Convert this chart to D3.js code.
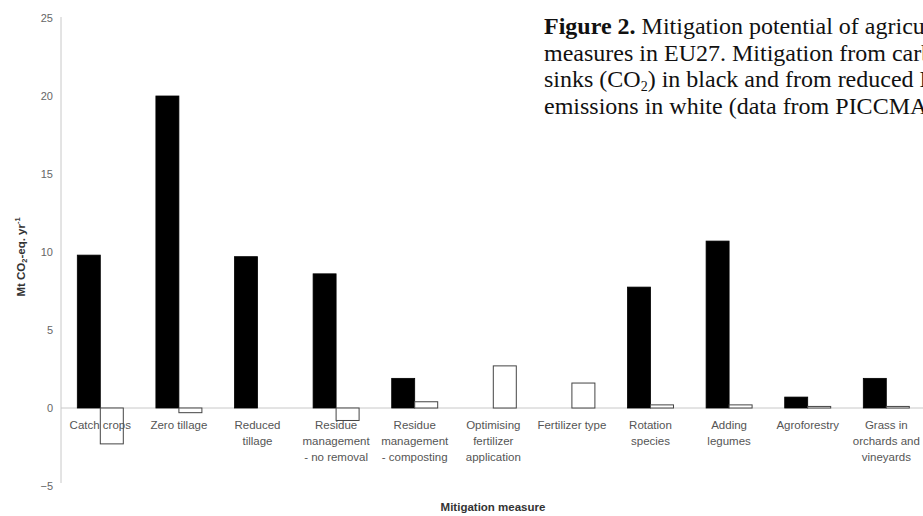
<!DOCTYPE html>
<html>
<head>
<meta charset="utf-8">
<script src="https://cdn.jsdelivr.net/npm/d3@7"></script>
<style>
  html, body { margin: 0; padding: 0; background: #fff; }
  svg { display: block; }
</style>
</head>
<body>
<svg id="chart" width="923" height="516"></svg>
<script>
const categories = [
  ["Catch crops"],
  ["Zero tillage"],
  ["Reduced", "tillage"],
  ["Residue", "management", "- no removal"],
  ["Residue", "management", "- composting"],
  ["Optimising", "fertilizer", "application"],
  ["Fertilizer type"],
  ["Rotation", "species"],
  ["Adding", "legumes"],
  ["Agroforestry"],
  ["Grass in", "orchards and", "vineyards"]
];
const co2Values   = [9.8, 20.0, 9.7, 8.6, 1.9, 0, 0, 7.75, 10.7, 0.7, 1.9];
const otherValues = [-2.3, -0.3, 0, -0.8, 0.4, 2.7, 1.6, 0.2, 0.2, 0.1, 0.1];
const seriesKeys = ["co2", "other"];
const yTicks = [-5, 0, 5, 10, 15, 20, 25];

const svg = d3.select("#chart");
const axisX = 61;
const keys = categories.map((c, i) => i);
const sans = "Liberation Sans, Arial, sans-serif";

const x = d3.scaleBand().domain(keys).range([axisX, axisX + 11 * 78.6]).padding(0);
const xs = d3.scaleBand().domain(seriesKeys).range([0, x.bandwidth()])
  .paddingInner(0).paddingOuter(0.709);
const y = d3.scaleLinear().domain([-5, 25]).range([486, 18]);

// zero line
svg.append("line")
  .attr("x1", axisX).attr("x2", 923)
  .attr("y1", y(0)).attr("y2", y(0))
  .attr("stroke", "#c8c8c8").attr("stroke-width", 1);

// y axis
const yAxis = d3.axisLeft(y).tickValues(yTicks).tickSize(0).tickPadding(8)
  .tickFormat(d3.format("d"));
const gy = svg.append("g").attr("transform", `translate(${axisX},0)`).call(yAxis);
gy.select(".domain").attr("stroke", "#c8c8c8").attr("d", `M0,${y(25)-1}V${y(-5)-3}`);
gy.selectAll("text").attr("font-family", sans)
  .attr("font-size", 11).attr("fill", "#666");

// bars
const data = keys.map(i => ({ i, co2: co2Values[i], other: otherValues[i] }));
const groups = svg.append("g").selectAll("g").data(data).join("g")
  .attr("transform", d => `translate(${x(d.i)},0)`);

groups.filter(d => d.co2 !== 0).append("rect")
  .attr("x", xs("co2")).attr("width", xs.bandwidth())
  .attr("y", d => y(Math.max(0, d.co2)))
  .attr("height", d => Math.abs(y(d.co2) - y(0)))
  .attr("fill", "#000").attr("stroke", "#000").attr("stroke-width", 0.8);

groups.filter(d => d.other !== 0).append("rect")
  .attr("x", xs("other")).attr("width", xs.bandwidth())
  .attr("y", d => y(Math.max(0, d.other)))
  .attr("height", d => Math.max(1, Math.abs(y(d.other) - y(0))))
  .attr("fill", "#fff").attr("stroke", "#444").attr("stroke-width", 1);

// x labels
const lab = svg.append("g").selectAll("text").data(data).join("text")
  .attr("x", d => x(d.i) + x.bandwidth() / 2)
  .attr("y", 429)
  .attr("text-anchor", "middle")
  .attr("font-family", sans)
  .attr("font-size", 11.5).attr("fill", "#555");
lab.each(function(d) {
  const t = d3.select(this);
  categories[d.i].forEach((line, k) => {
    t.append("tspan").attr("x", x(d.i) + x.bandwidth() / 2)
      .attr("dy", k === 0 ? 0 : 16).text(line);
  });
});

// axis titles
svg.append("text")
  .attr("x", 493).attr("y", 511)
  .attr("text-anchor", "middle")
  .attr("font-family", sans)
  .attr("font-size", 11.5).attr("font-weight", "bold").attr("fill", "#333")
  .text("Mitigation measure");

const yt = svg.append("text")
  .attr("transform", "translate(25,257) rotate(-90)")
  .attr("text-anchor", "middle")
  .attr("font-family", sans)
  .attr("font-size", 11.5).attr("font-weight", "bold").attr("fill", "#333");
yt.append("tspan").text("Mt CO");
yt.append("tspan").attr("font-size", 7.5).attr("dy", 2).text("2");
yt.append("tspan").attr("dy", -2).text("-eq. yr");
yt.append("tspan").attr("font-size", 7.5).attr("dy", -5).text("-1");

// caption (cut off at the right edge, as in the reference)
const cap = svg.append("g")
  .attr("font-family", "Liberation Serif, Times New Roman, serif")
  .attr("font-size", 24).attr("fill", "#111");
const c1 = cap.append("text").attr("x", 544).attr("y", 34);
c1.append("tspan").attr("font-weight", "bold").text("Figure 2.");
c1.append("tspan").text(" Mitigation potential of agricultural");
cap.append("text").attr("x", 544).attr("y", 60.5)
  .text("measures in EU27. Mitigation from carbon");
const c3 = cap.append("text").attr("x", 544).attr("y", 87);
c3.append("tspan").text("sinks (CO");
c3.append("tspan").attr("font-size", 14).attr("dy", 4).text("2");
c3.append("tspan").attr("dy", -4).text(") in black and from reduced N");
cap.append("text").attr("x", 544).attr("y", 113.5)
  .text("emissions in white (data from PICCMAT)");
</script>
</body>
</html>
